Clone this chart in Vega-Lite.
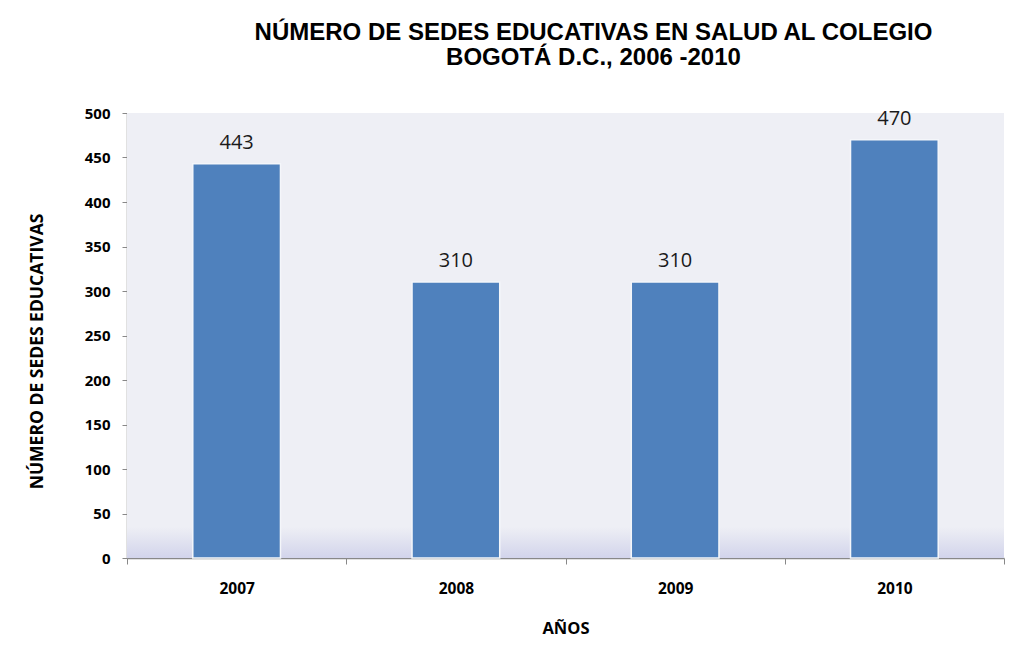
{
  "$schema": "https://vega.github.io/schema/vega-lite/v6.json",
  "autosize": {"type": "none"},
  "width": 877,
  "height": 445,
  "padding": {"left": 127, "top": 113, "right": 25, "bottom": 97},
  "background": "white",
  "config": {
    "view": {"stroke": null},
    "axis": {"domainColor": "#888888", "tickColor": "#888888", "labelColor": "#000000", "titleColor": "#000000", "labelFont": "Open Sans", "titleFont": "Open Sans", "labelFontWeight": "bold", "titleFontWeight": "bold"}
  },
  "title": {
    "text": ["NÚMERO DE  SEDES EDUCATIVAS EN SALUD AL COLEGIO", "BOGOTÁ D.C., 2006 -2010"],
    "font": "Liberation Sans",
    "fontSize": 24,
    "fontWeight": "bold",
    "color": "#000000",
    "anchor": "middle",
    "dx": 28,
    "offset": 36,
    "lineHeight": 25
  },
  "data": {"values": [
    {"year": "2007", "sedes": 443},
    {"year": "2008", "sedes": 310},
    {"year": "2009", "sedes": 310},
    {"year": "2010", "sedes": 470}
  ]},
  "encoding": {
    "x": {"field": "year", "type": "nominal", "sort": null,
      "scale": {"paddingInner": 0, "paddingOuter": 0},
      "axis": {"title": "AÑOS", "labelAngle": 0, "labelFontSize": 15.5, "titleFontSize": 16.5, "labelPadding": 17, "titlePadding": 24, "tickBand": "extent", "tickSize": 6, "domainWidth": 1.5}
    },
    "y": {"field": "sedes", "type": "quantitative",
      "scale": {"domain": [0, 500]},
      "axis": {"title": "NÚMERO DE SEDES EDUCATIVAS", "values": [0,50,100,150,200,250,300,350,400,450,500], "labelOverlap": false, "grid": false, "labelFontSize": 15, "titleFontSize": 17.5, "tickSize": 5, "labelPadding": 12, "titlePadding": 38, "titleY": 238, "domainWidth": 1.5}
    }
  },
  "layer": [
    {
      "mark": {"type": "rect", "fill": {"gradient": "linear", "x1": 0, "y1": 0, "x2": 0, "y2": 1, "stops": [{"offset": 0, "color": "#EEEFF5"}, {"offset": 0.93, "color": "#EEEFF5"}, {"offset": 1, "color": "#D2D4EB"}]}},
      "encoding": {
        "x": {"value": 0},
        "x2": {"value": "width"},
        "y": {"datum": 500},
        "y2": {"datum": 0}
      }
    },
    {
      "mark": {"type": "bar", "color": "#4F81BD", "stroke": "#F4F6FA", "strokeWidth": 1.5, "width": {"band": 0.4}}
    },
    {
      "mark": {"type": "text", "baseline": "alphabetic", "dy": -15, "font": "Open Sans", "fontSize": 20, "color": "#1A1A1A"},
      "encoding": {"text": {"field": "sedes", "type": "quantitative"}}
    }
  ]
}
